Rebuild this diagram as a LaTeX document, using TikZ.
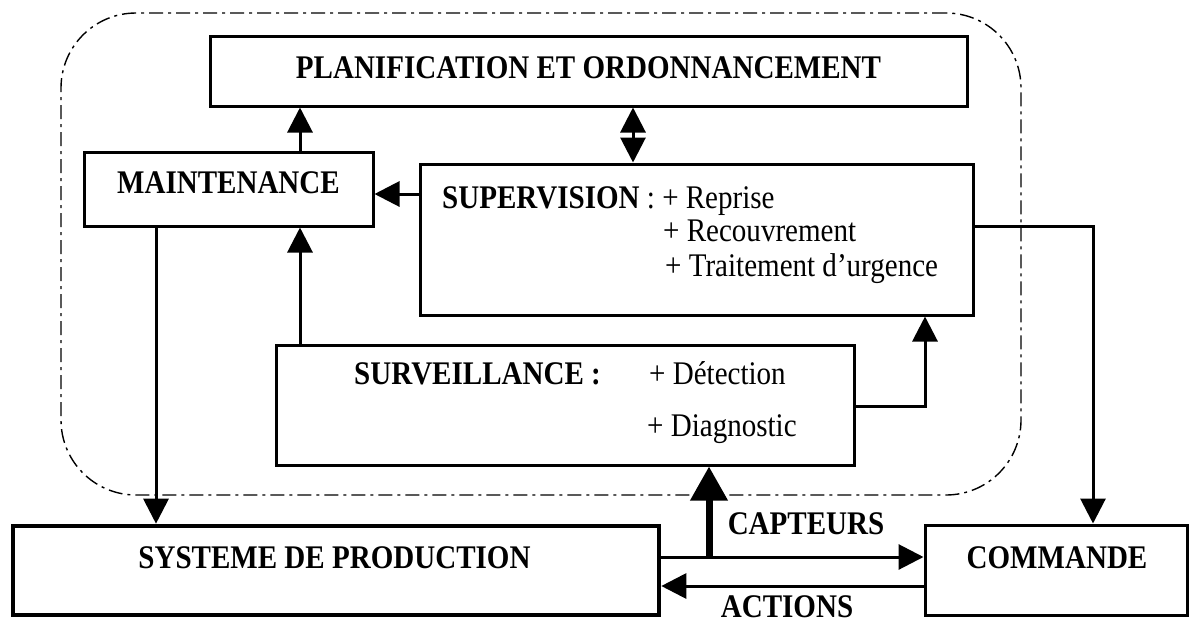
\documentclass[tikz,border=0pt]{standalone}
\usepackage{fontspec}
\setmainfont{Liberation Serif}[FakeStretch=0.88]
\usetikzlibrary{arrows.meta}
\begin{document}
\begin{tikzpicture}[x=1pt,y=-1pt,
  box/.style={draw, line width=3pt, inner sep=0pt, rectangle},
  thickbox/.style={draw, line width=4.6pt, inner sep=0pt, rectangle},
  lbl/.style={inner sep=0pt, font=\fontsize{33}{38}\selectfont},
  blbl/.style={inner sep=0pt, font=\fontsize{33}{38}\selectfont\bfseries},
  conn/.style={line width=3pt, -{Triangle[length=25pt,width=25pt]}},
  dconn/.style={line width=3pt, {Triangle[length=25pt,width=25pt]}-{Triangle[length=25pt,width=25pt]}},
  capt/.style={line width=7pt, -{Triangle[length=34pt,width=36pt]}},
  frame/.style={draw, line width=1.4pt, rounded corners=75pt, inner sep=0pt,
    dash pattern=on 14pt off 5pt on 3pt off 5pt}
]
\useasboundingbox (0,0) rectangle (1191,624);

% dash-dot frame
\node[frame, minimum width=960pt, minimum height=482pt] (frame) at (541,254) {};

% boxes
\node[box, minimum width=757pt, minimum height=70pt] (plan) at (588.5,71) {};
\node[box, minimum width=289pt, minimum height=74pt] (maint) at (228.5,189) {};
\node[box, minimum width=553pt, minimum height=151pt] (sup) at (696.5,239.5) {};
\node[box, minimum width=578pt, minimum height=120pt] (surv) at (565,405) {};
\node[thickbox, minimum width=646pt, minimum height=89pt] (prod) at (336,570.5) {};
\node[box, minimum width=262pt, minimum height=90pt] (cmd) at (1056,570) {};

% texts
\node[blbl, anchor=base] (tplan) at (588.5,78) {PLANIFICATION ET ORDONNANCEMENT};
\node[blbl, anchor=base] (tmaint) at (228.5,193) {MAINTENANCE};
\node[lbl, anchor=base west] (tsup1) at (442,208) {\textbf{SUPERVISION} : + Reprise};
\node[lbl, anchor=base west] (tsup2) at (663,241) {+ Recouvrement};
\node[lbl, anchor=base west] (tsup3) at (665,276) {+ Traitement d’urgence};
\node[blbl, anchor=base west] (tsurv) at (354,384) {SURVEILLANCE :};
\node[lbl, anchor=base west] (tsurv1) at (649,384) {+ Détection};
\node[lbl, anchor=base west] (tsurv2) at (647,436) {+ Diagnostic};
\node[blbl, anchor=base] (tprod) at (334.5,568) {SYSTEME DE PRODUCTION};
\node[blbl, anchor=base] (tcmd) at (1057,568) {COMMANDE};
\node[blbl, anchor=base] (tcapt) at (806,534) {CAPTEURS};
\node[blbl, anchor=base] (tact) at (787,617) {ACTIONS};

% helper coordinates
\coordinate (xa) at (300,0);
\coordinate (xb) at (156,0);
\coordinate (xc) at (633,0);
\coordinate (xd) at (925,0);
\coordinate (xe) at (1093,0);
\coordinate (xf) at (709,0);
\coordinate (ya) at (0,194);
\coordinate (yb) at (0,226);
\coordinate (yc) at (0,406);
\coordinate (yd) at (0,557);
\coordinate (ye) at (0,586);

% connectors
\draw[conn] (xa |- maint.north) -- (xa |- plan.south);
\draw[conn] (ya -| sup.west) -- (ya -| maint.east);
\draw[conn] (xa |- surv.north) -- (xa |- maint.south);
\draw[dconn] (xc |- plan.south) -- (xc |- sup.north);
\draw[conn] (xb |- maint.south) -- (xb |- prod.north);
\draw[conn] (yb -| sup.east) -| (xe |- cmd.north);
\draw[conn] (yc -| surv.east) -| (xd |- sup.south);
\draw[conn] (yd -| prod.east) -- (yd -| cmd.west);
\draw[capt] ([yshift=1pt]xf |- yd) -- (xf |- surv.south);
\draw[conn] (ye -| cmd.west) -- (ye -| prod.east);
\end{tikzpicture}
\end{document}
